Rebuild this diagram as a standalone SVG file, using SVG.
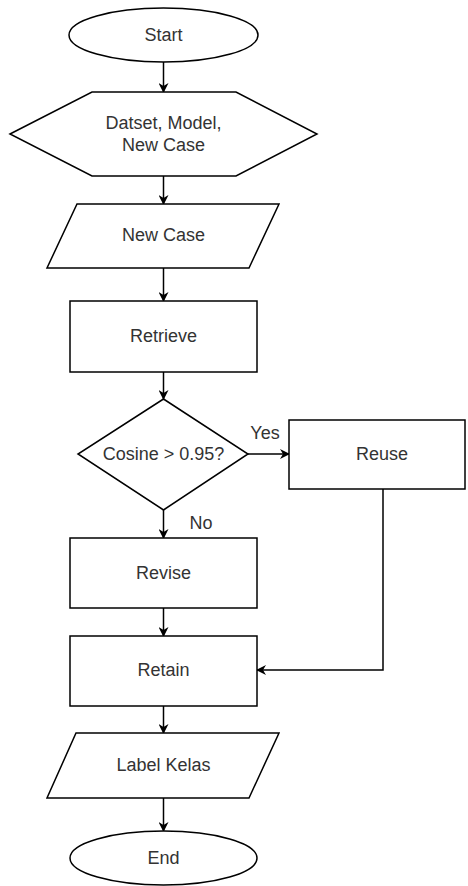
<svg xmlns="http://www.w3.org/2000/svg" width="468" height="886" viewBox="0 0 468 886">
<style>
.s{fill:#fff;stroke:#000;stroke-width:1.5}
.t{font-family:"Liberation Sans",Arial,sans-serif;font-size:18px;fill:#333;text-anchor:middle}
.c{fill:none;stroke:#000;stroke-width:1.5}
</style>
<defs>
<marker id="a" markerWidth="10" markerHeight="10" refX="9" refY="5" orient="auto" markerUnits="userSpaceOnUse">
<path d="M0,0 L10,5 L0,10 L3,5 Z" fill="#000"/>
</marker>
</defs>
<rect width="468" height="886" fill="#fff"/>
<g id="connectors">
<path class="c" d="M163.5,62 V92" marker-end="url(#a)"/>
<path class="c" d="M163.5,176 V204" marker-end="url(#a)"/>
<path class="c" d="M163.5,268 V301" marker-end="url(#a)"/>
<path class="c" d="M163.5,372 V399" marker-end="url(#a)"/>
<path class="c" d="M248,454 H289" marker-end="url(#a)"/>
<path class="c" d="M163.5,510 V538" marker-end="url(#a)"/>
<path class="c" d="M163.5,608 V636" marker-end="url(#a)"/>
<path class="c" d="M383,489 V670 H257" marker-end="url(#a)"/>
<path class="c" d="M163.5,706 V733" marker-end="url(#a)"/>
<path class="c" d="M163.5,798 V831" marker-end="url(#a)"/>
<text class="t" x="265" y="439">Yes</text>
<text class="t" x="201" y="529">No</text>
</g>
<g id="start">
<ellipse class="s" cx="163.5" cy="35" rx="94.5" ry="27"/>
<text class="t" x="163.5" y="41">Start</text>
</g>
<g id="input">
<polygon class="s" points="10,134 92,92 236,92 317,134 236,176 92,176"/>
<text class="t" x="163.5" y="129">Datset, Model,</text>
<text class="t" x="163.5" y="151">New Case</text>
</g>
<g id="newcase">
<polygon class="s" points="77,204 279,204 249,268 47,268"/>
<text class="t" x="163.5" y="241">New Case</text>
</g>
<g id="retrieve">
<rect class="s" x="70" y="301" width="187" height="71"/>
<text class="t" x="163.5" y="342">Retrieve</text>
</g>
<g id="decision">
<polygon class="s" points="163.5,399 248,454 163.5,510 78,454"/>
<text class="t" x="163.5" y="460">Cosine &gt; 0.95?</text>
</g>
<g id="reuse">
<rect class="s" x="289" y="420" width="176" height="69"/>
<text class="t" x="382" y="460">Reuse</text>
</g>
<g id="revise">
<rect class="s" x="70" y="538" width="187" height="70"/>
<text class="t" x="163.5" y="579">Revise</text>
</g>
<g id="retain">
<rect class="s" x="70" y="636" width="187" height="70"/>
<text class="t" x="163.5" y="676">Retain</text>
</g>
<g id="label">
<polygon class="s" points="76,733 279,733 249,798 47,798"/>
<text class="t" x="163.5" y="771">Label Kelas</text>
</g>
<g id="end">
<ellipse class="s" cx="163.5" cy="858" rx="93.5" ry="27"/>
<text class="t" x="163.5" y="864">End</text>
</g>
</svg>
